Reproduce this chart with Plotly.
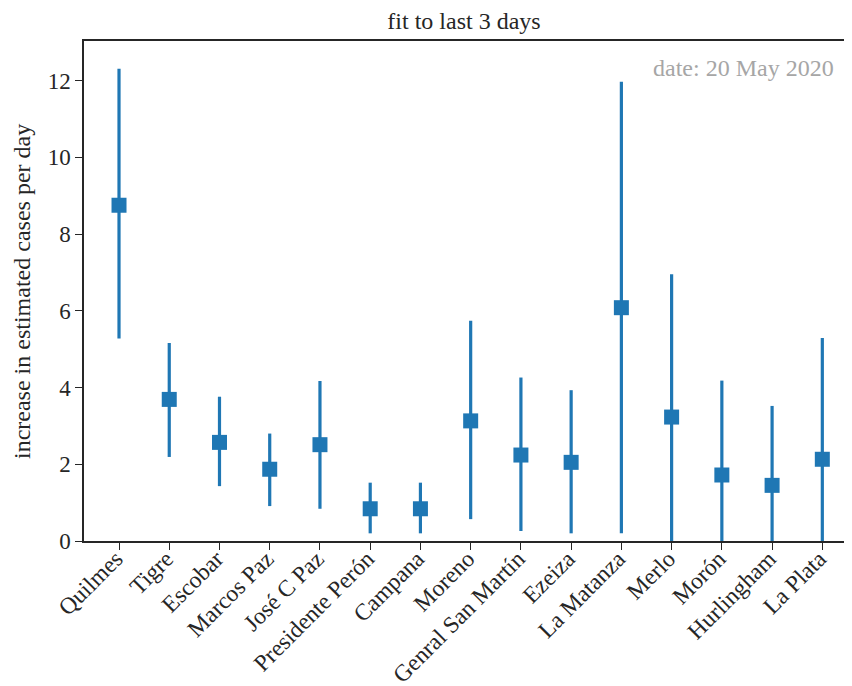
import plotly.graph_objects as go

districts = ["Quilmes", "Tigre", "Escobar", "Marcos Paz", "José C Paz", "Presidente Perón",
             "Campana", "Moreno", "Genral San Martín", "Ezeiza", "La Matanza", "Merlo",
             "Morón", "Hurlingham", "La Plata"]
estimate = [8.75, 3.69, 2.57, 1.87, 2.51, 0.84, 0.84, 3.13, 2.24, 2.05, 6.08, 3.23, 1.72, 1.45, 2.13]
upper = [12.31, 5.16, 3.76, 2.80, 4.17, 1.52, 1.52, 5.74, 4.26, 3.93, 11.97, 6.95, 4.18, 3.52, 5.29]
lower = [5.28, 2.19, 1.43, 0.91, 0.84, 0.20, 0.20, 0.57, 0.26, 0.20, 0.20, 0.0, 0.0, 0.0, 0.0]
yticks = [0, 2, 4, 6, 8, 10, 12]

FONT = "Liberation Serif, Times New Roman, serif"
BLUE = "#1f77b4"
AX = "#262626"

# page has an 8px body margin; figure coordinates below compensate for it
OFF = 8
W, H = 852, 686
L, T, B = 84 - OFF, 41 - OFF, 541 - OFF

xs = list(range(len(districts)))
err_plus = [u - e for u, e in zip(upper, estimate)]
err_minus = [e - l for e, l in zip(estimate, lower)]

fig = go.Figure()
fig.add_trace(go.Scatter(
    x=xs, y=estimate, mode="markers",
    marker=dict(symbol="square", size=15, color=BLUE),
    error_y=dict(type="data", symmetric=False, array=err_plus, arrayminus=err_minus,
                 color=BLUE, thickness=3.2, width=0),
    cliponaxis=True, showlegend=False,
))

fig.update_layout(
    width=W, height=H,
    margin=dict(l=L, r=0, t=T, b=H - B, pad=0, autoexpand=False),
    paper_bgcolor="white", plot_bgcolor="white",
    font=dict(family=FONT, size=23, color=AX),
    title=dict(text="fit to last 3 days", x=(464 - OFF) / W, xanchor="center",
               y=1 - (21 - OFF) / H, yanchor="middle", font=dict(size=24, family=FONT, color=AX)),
    xaxis=dict(range=[-0.697, 14.75], tickmode="array", tickvals=xs, ticktext=districts,
               tickangle=-45, showgrid=False, zeroline=False, showline=True, automargin=False,
               linecolor=AX, linewidth=1.5, mirror=True, ticks="outside", ticklen=7,
               tickwidth=1.3, tickcolor=AX, ticklabelshift=-3, ticklabelstandoff=-14,
               tickfont=dict(size=23.5, family=FONT, color=AX)),
    yaxis=dict(range=[0, 13.03], tickmode="array", tickvals=yticks, automargin=False,
               showgrid=False, zeroline=False, showline=True, linecolor=AX, linewidth=1.5,
               mirror=False, ticks="outside", ticklen=7, tickwidth=1.3, tickcolor=AX,
               tickfont=dict(size=23, family=FONT, color=AX)),
    annotations=[
        dict(text="date: 20 May 2020", xref="paper", yref="paper",
             x=(836 - OFF - L) / (W - L), y=(B - (68 - OFF)) / (B - T), xanchor="right",
             yanchor="middle", showarrow=False, font=dict(size=24, family=FONT, color="#a6a6a6")),
        dict(text="increase in estimated cases per day", xref="paper", yref="paper",
             x=-(L - (22 - OFF)) / (W - L), y=(B - (292 - OFF)) / (B - T), xanchor="center",
             yanchor="middle", textangle=-90, showarrow=False,
             font=dict(size=24, family=FONT, color=AX)),
    ],
)

fig.write_html("out.html")
